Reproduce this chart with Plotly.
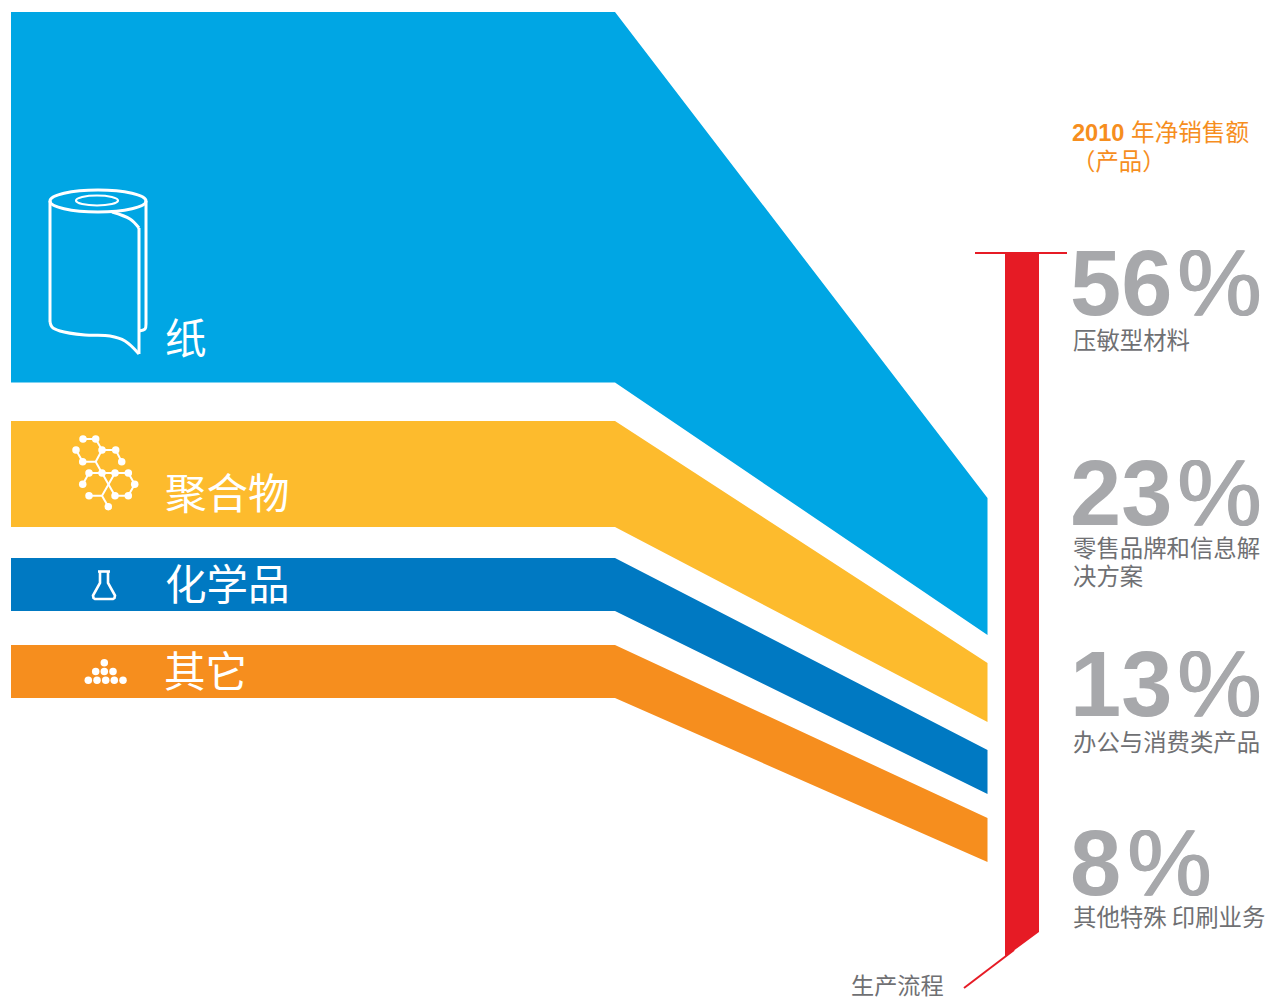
import plotly.graph_objects as go

# Flow bands: position along the process and band edges at each station
stations = [11, 615, 987.5]
band_names = ["纸", "聚合物", "化学品", "其它"]
band_tops = [[12, 12, 498], [421, 421, 663], [558, 558, 750], [645, 645, 818]]
band_bottoms = [[382.5, 382.5, 635], [527, 527, 722], [611, 611, 794], [698, 698, 862]]
band_colors = ["#00a6e4", "#fdbb2d", "#0079c2", "#f68e1e"]
band_label_x = [165, 165, 165, 164]
band_label_y = [335.5, 490.5, 581.5, 668.5]

# Sales share per product line
shares = ["56", "23", "13", "8"]
share_y = [282.5, 492.5, 683.5, 862.5]
percent_x = [1177, 1177, 1177, 1127]
share_names = [["压敏型材料"], ["零售品牌和信息解", "决方案"], ["办公与消费类产品"], ["其他特殊 印刷业务"]]
share_name_y = [[339], [547, 575], [741], [916]]

# Red production bar
bar_x = [1005, 1039, 1039, 1005]
bar_y = [253, 253, 932, 957]
cap_x = [975, 1067]
cap_y = [253, 253]
leader_x = [964, 1014]
leader_y = [988, 950]

# Icon outlines
roll_left_x = [50, 50]
roll_left_y = [201, 322]
roll_hem_x = [50, 52, 60, 85, 110, 125, 139]
roll_hem_y = [322, 327, 331, 335, 336, 341, 354]
roll_edge_x = [139, 139]
roll_edge_y = [354, 228]
roll_curl_x = [139, 130, 112]
roll_curl_y = [228, 219, 212]
roll_side_x = [146, 146]
roll_side_y = [201, 324]
roll_hook_x = [146, 145, 139]
roll_hook_y = [324, 329, 331]

mol_x = [83, 95.7, 102, 115.7, 121.7, None, 76, 82.7, 95.7, 102, 95.7, None,
         89, 128.3, 134.7, 128.3, 115, 102, None, 89, 82.7, None,
         115, 102, 89, None, 102, 108.3]
mol_y = [439, 439, 450, 450, 461.7, None, 450, 461.7, 461.7, 473, 461.7, None,
         473, 473, 484.3, 495.7, 495.7, 473, None, 473, 484.3, None,
         473, 495.7, 495.7, None, 495.7, 506.7]
mol_extra_x = [102, 95.7]
mol_extra_y = [450, 461.7]
atom_x = [83, 95.7, 76, 102, 115.7, 82.7, 121.7, 89, 102, 115, 128.3, 82.7, 134.7, 89, 115, 128.3, 108.3]
atom_y = [439, 439, 450, 450, 450, 461.7, 461.7, 473, 473, 473, 473, 484.3, 484.3, 495.7, 495.7, 495.7, 506.7]

flask_x = [98, 110, None, 100, 100, 93, 93.5, 95, 113, 114.5, 115, 108, 108]
flask_y = [571.5, 571.5, None, 572, 583, 595.5, 598, 599, 599, 598, 595.5, 583, 572]

dots_x = [104.3, 95.7, 104.3, 113, 88.3, 97, 105.7, 114.3, 123]
dots_y = [662.7, 671.5, 671.5, 671.5, 680.3, 680.3, 680.3, 680.3, 680.3]

GREY = "#a7a8ab"
TEXT_GREY = "#6f7073"
ORANGE = "#f68e1e"
CJK = "Noto Sans CJK SC"
LATIN = "Liberation Sans, Noto Sans CJK SC"

fig = go.Figure()

def polygon(xs, ys, color):
    fig.add_trace(go.Scatter(x=xs, y=ys, mode="lines", fill="toself", fillcolor=color,
                             line=dict(width=0, color=color), hoverinfo="skip"))

def stroke(xs, ys, width=3, color="white", shape="linear"):
    fig.add_trace(go.Scatter(x=xs, y=ys, mode="lines", hoverinfo="skip",
                             line=dict(width=width, color=color, shape=shape)))

def dots(xs, ys, size):
    fig.add_trace(go.Scatter(x=xs, y=ys, mode="markers", hoverinfo="skip",
                             marker=dict(size=size, color="white", line=dict(width=0))))

for top, bottom, color in zip(band_tops, band_bottoms, band_colors):
    polygon(stations + stations[::-1], top + bottom[::-1], color)

polygon(bar_x, bar_y, "#e61b25")
stroke(cap_x, cap_y, 2, "#e61b25")
stroke(leader_x, leader_y, 2, "#e61b25")

# Paper roll
stroke(roll_left_x, roll_left_y)
stroke(roll_hem_x, roll_hem_y, shape="spline")
stroke(roll_edge_x, roll_edge_y)
stroke(roll_curl_x, roll_curl_y, shape="spline")
stroke(roll_side_x, roll_side_y)
stroke(roll_hook_x, roll_hook_y, shape="spline")

# Molecule, flask and particle pile
stroke(mol_x, mol_y, 2)
stroke(mol_extra_x, mol_extra_y, 2)
dots(atom_x, atom_y, 7.5)
stroke(flask_x, flask_y, 2.6)
dots(dots_x, dots_y, 7.5)

shapes = [
    dict(type="circle", x0=50, x1=146, y0=190, y1=212, line=dict(color="white", width=3)),
    dict(type="circle", x0=76, x1=118, y0=195.5, y1=205.5, line=dict(color="white", width=2.2)),
]

annotations = []

def label(x, y, text, size, color, family=CJK, shadow=None):
    font = dict(size=size, color=color, family=family)
    if shadow:
        font["shadow"] = shadow
    annotations.append(dict(x=x, y=y, text=text, xref="x", yref="y", xanchor="left", yanchor="middle",
                            showarrow=False, borderpad=0, borderwidth=0, font=font))

for name, x, y in zip(band_names, band_label_x, band_label_y):
    label(x, y, name, 41.5, "white")

for share, y, px, names, name_ys in zip(shares, share_y, percent_x, share_names, share_name_y):
    label(1070, y, f"<b>{share}</b>", 92, GREY, LATIN)
    # A hairline shadow gives the percent sign a medium weight
    label(px, y - 1, "%", 95, GREY, LATIN, shadow=f"1px 0 0 {GREY}, -0.5px 0 0 {GREY}")
    for name, name_y in zip(names, name_ys):
        label(1073, name_y, name, 23.4, TEXT_GREY)

label(1072, 133, "<b>2010</b> 年净销售额", 23.6, ORANGE, LATIN)
label(1072, 159.5, "（产品）", 23.4, ORANGE)
label(851, 985.5, "生产流程", 23.2, TEXT_GREY, LATIN)

fig.update_layout(
    width=1267, height=998, margin=dict(l=0, r=0, t=0, b=0),
    paper_bgcolor="white", plot_bgcolor="white", showlegend=False,
    xaxis=dict(range=[0, 1267], visible=False, fixedrange=True),
    yaxis=dict(range=[998, 0], visible=False, fixedrange=True),
    shapes=shapes, annotations=annotations,
)
fig.write_html("out.html", config=dict(displayModeBar=False))
